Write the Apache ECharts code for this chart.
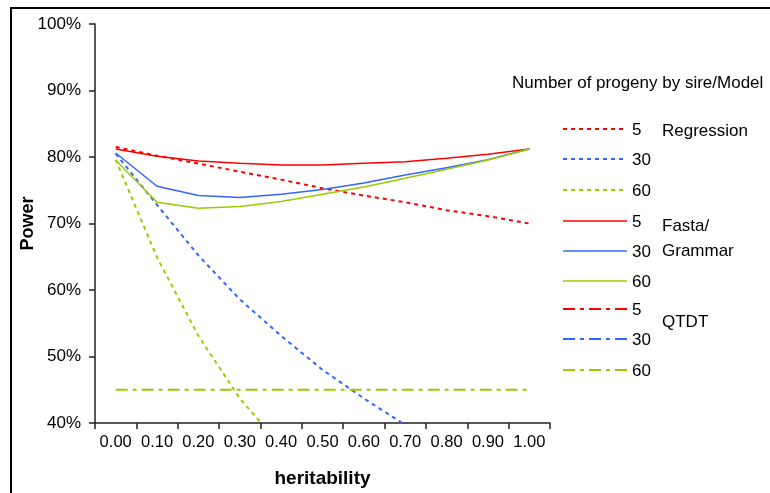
<!DOCTYPE html>
<html><head><meta charset="utf-8">
<script src="https://cdn.jsdelivr.net/npm/echarts@6/dist/echarts.min.js"></script>
<style>html,body{margin:0;padding:0;background:#fff}#c{width:770px;height:493px}</style>
</head><body><div id="c"></div>
<script>
// ---- data ----
const categories = ['0.00','0.10','0.20','0.30','0.40','0.50','0.60','0.70','0.80','0.90','1.00'];
const yTicks = [40, 50, 60, 70, 80, 90, 100];
const regression5  = [81.5, 80.2, 79.0, 77.8, 76.6, 75.3, 74.2, 73.2, 72.0, 71.1, 70.0];
const regression30 = [80.5, 72.8, 65.2, 58.6, 53.1, 48.0, 43.7, 39.7, 36.0, 32.5, 29.0];
const regression60 = [79.6, 64.9, 53.1, 43.7, 36.5, 30.5, 25.5, 21.0, 17.0, 13.5, 10.0];
const fasta5  = [81.2, 80.1, 79.4, 79.05, 78.8, 78.8, 79.05, 79.3, 79.8, 80.4, 81.2];
const fasta30 = [80.6, 75.6, 74.2, 73.9, 74.4, 75.1, 76.1, 77.3, 78.4, 79.6, 81.2];
const fasta60 = [79.5, 73.2, 72.3, 72.55, 73.3, 74.4, 75.5, 76.8, 78.15, 79.55, 81.2];
const qtdt5  = [20, 20, 20, 20, 20, 20, 20, 20, 20, 20, 20];
const qtdt30 = [30, 30, 30, 30, 30, 30, 30, 30, 30, 30, 30];
const qtdt60 = [45, 45, 45, 45, 45, 45, 45, 45, 45, 45, 45];
const legendTitle = 'Number of progeny by sire/Model';
const legendItems = ['5', '30', '60', '5', '30', '60', '5', '30', '60'];
const groupLabels = ['Regression', 'Fasta/', 'Grammar', 'QTDT'];

// ---- styles ----
const RED = '#FF0000', BLUE = '#3366FF', GREEN = '#99CC00';
const DOT = [4, 4], DASHDOT = [12, 5, 4, 5];
const FONT = 'Liberation Sans, Arial, sans-serif';

const seriesDefs = [
  {name: 'Regression 5', data: regression5, color: RED, dash: DOT},
  {name: 'Regression 30', data: regression30, color: BLUE, dash: DOT},
  {name: 'Regression 60', data: regression60, color: GREEN, dash: DOT},
  {name: 'Fasta 5', data: fasta5, color: RED, dash: 'solid'},
  {name: 'Fasta 30', data: fasta30, color: BLUE, dash: 'solid'},
  {name: 'Fasta 60', data: fasta60, color: GREEN, dash: 'solid'},
  {name: 'QTDT 5', data: qtdt5, color: RED, dash: DASHDOT},
  {name: 'QTDT 30', data: qtdt30, color: BLUE, dash: DASHDOT},
  {name: 'QTDT 60', data: qtdt60, color: GREEN, dash: DASHDOT}
];

const series = seriesDefs.map(s => ({
  name: s.name, type: 'line', data: s.data, symbol: 'none', clip: true,
  lineStyle: {color: s.color, width: s.dash === 'solid' ? 1.5 : 2, type: s.dash},
  itemStyle: {color: s.color}, animation: false
}));

// legend drawn as graphic (duplicate names in original)
const rowY = [129, 159, 190, 221, 251, 281, 309, 339, 370];
const graphic = [
  {type: 'rect', shape: {x: 11, y: 8, width: 820, height: 540}, style: {fill: 'none', stroke: '#000', lineWidth: 2}, silent: true},
  {type: 'text', x: 512, y: 83, style: {text: legendTitle, font: '17px ' + FONT, fill: '#000', verticalAlign: 'middle'}}
];
seriesDefs.forEach((s, i) => {
  graphic.push({type: 'line', shape: {x1: 563, y1: rowY[i], x2: 627, y2: rowY[i]},
    style: {stroke: s.color, lineWidth: s.dash === 'solid' ? 1.5 : 2, lineDash: s.dash === 'solid' ? null : s.dash}});
  graphic.push({type: 'text', x: 632, y: rowY[i] + 1, style: {text: legendItems[i], font: '17px ' + FONT, fill: '#000', verticalAlign: 'middle'}});
});
const groupY = [131.5, 226.5, 251, 322];
groupLabels.forEach((t, i) => {
  graphic.push({type: 'text', x: 662, y: groupY[i], style: {text: t, font: '17px ' + FONT, fill: '#000', verticalAlign: 'middle'}});
});

const chart = echarts.init(document.getElementById('c'), null, {renderer: 'canvas'});
chart.setOption({
  animation: false,
  backgroundColor: '#fff',
  grid: {left: 95, right: 220, top: 24, bottom: 70, containLabel: false},
  xAxis: {
    type: 'category', data: categories, boundaryGap: true,
    name: 'heritability', nameLocation: 'middle', nameGap: 46, nameMoveOverlap: false,
    nameTextStyle: {fontFamily: FONT, fontSize: 19, fontWeight: 'bold', color: '#000'},
    axisLine: {lineStyle: {color: '#222', width: 1.5}},
    axisTick: {show: true, length: 6, lineStyle: {color: '#222', width: 1.5}},
    axisLabel: {fontFamily: FONT, fontSize: 16.5, color: '#000', margin: 11, interval: 0},
    splitLine: {show: false}
  },
  yAxis: {
    type: 'value', min: yTicks[0], max: yTicks[yTicks.length - 1], interval: 10,
    name: 'Power', nameLocation: 'middle', nameGap: 58, nameRotate: 90, nameMoveOverlap: false,
    nameTextStyle: {fontFamily: FONT, fontSize: 18, fontWeight: 'bold', color: '#000'},
    axisLine: {show: true, lineStyle: {color: '#222', width: 1.5}},
    axisTick: {show: true, length: 6, lineStyle: {color: '#222', width: 1.5}},
    axisLabel: {fontFamily: FONT, fontSize: 17, color: '#000', margin: 14, formatter: '{value}%'},
    splitLine: {show: false}
  },
  series: series,
  graphic: graphic
});
</script></body></html>
